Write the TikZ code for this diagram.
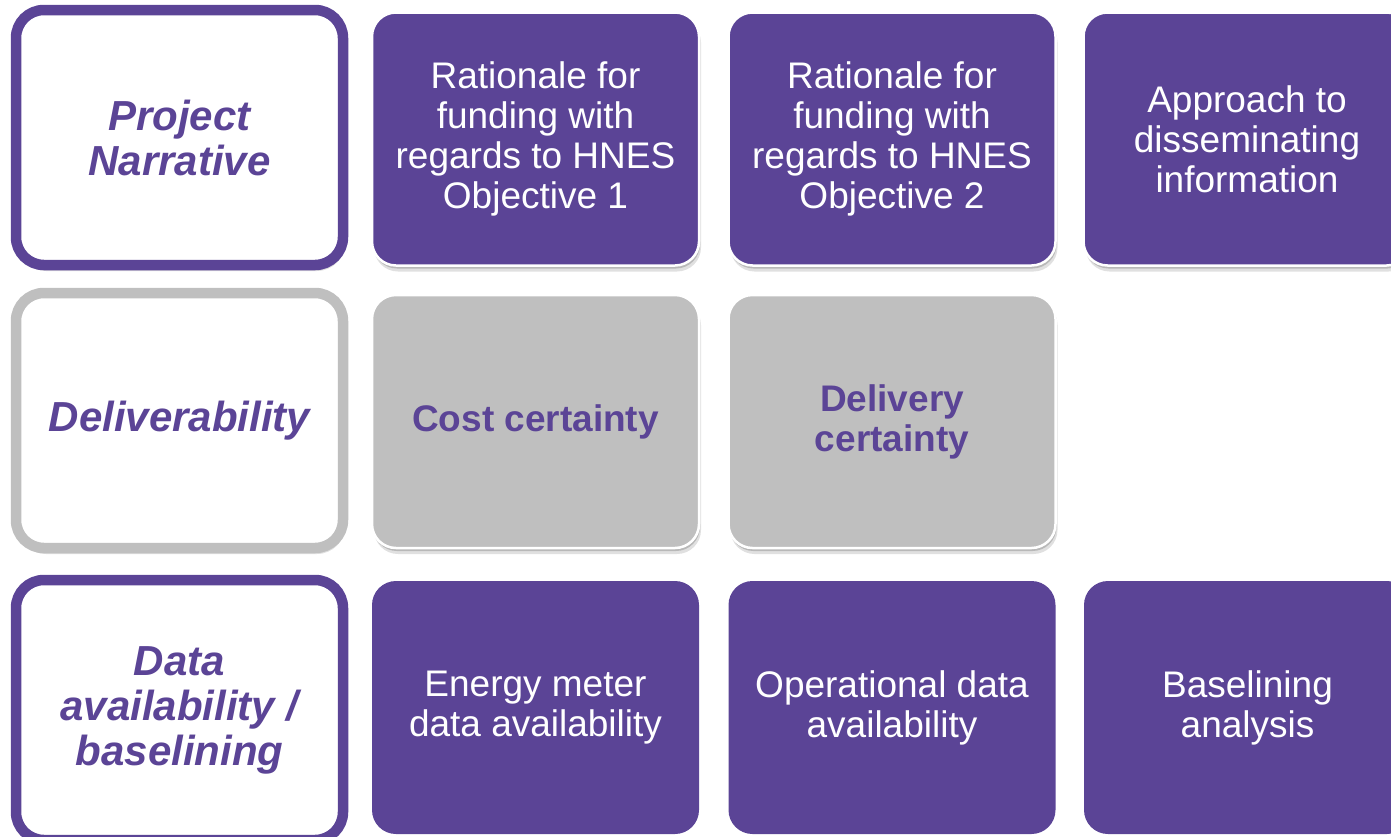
\documentclass[tikz,border=0pt]{standalone}
\usepackage{fontspec}
\setmainfont{Liberation Sans}
\usetikzlibrary{shadows}
\definecolor{hpurple}{RGB}{91,68,150}
\definecolor{hgray}{RGB}{191,191,191}
\tikzset{
  softshadow/.style={
    drop shadow={shadow xshift=1pt, shadow yshift=-3pt, opacity=0.18, fill=black},
    drop shadow={shadow xshift=2pt, shadow yshift=-6pt, opacity=0.12, fill=black}},
  cell/.style={rounded corners=24pt, minimum width=327pt, minimum height=253pt,
    inner sep=0pt, align=center, font=\fontsize{37}{40}\selectfont},
  pcell/.style={cell, fill=hpurple, text=white},
  pcellsh/.style={pcell, draw=white, line width=2.5pt, softshadow},
  gcell/.style={cell, fill=hgray, draw=white, line width=2.5pt, text=hpurple,
    font=\fontsize{37}{40}\selectfont\bfseries, softshadow},
  headbox/.style={rounded corners=28pt, minimum width=327pt, minimum height=255pt,
    inner sep=0pt, fill=white, line width=10.5pt, align=center, text=hpurple,
    font=\fontsize{42}{45}\selectfont\bfseries\itshape},
}
\begin{document}
\begin{tikzpicture}[x=1pt,y=-1pt]
\useasboundingbox (0,0) rectangle (1391,836);
\clip (0,0) rectangle (1391,836);
% row 1
\node[headbox, draw=hpurple, softshadow] (pn) at (179.5,137.5) {Project\\Narrative};
\node[pcellsh] (r1) at (535.5,139) {Rationale for\\funding with\\regards to HNES\\Objective 1};
\node[pcellsh] (r2) at (892,139) {Rationale for\\funding with\\regards to HNES\\Objective 2};
\node[pcellsh] (ap) at (1247,139) {Approach to\\disseminating\\information};
% row 2
\node[headbox, draw=hgray, softshadow] (dl) at (179.5,420.5) {Deliverability};
\node[gcell] (cc) at (535.5,421.5) {Cost certainty};
\node[gcell] (dc) at (892,421.5) {Delivery\\certainty};
% row 3
\node[headbox, draw=hpurple, minimum height=260pt] (da) at (179.5,710) {Data\\availability /\\baselining};
\node[pcell] (em) at (535.5,707.5) {Energy meter\\data availability};
\node[pcell] (od) at (892,707.5) {Operational data\\availability};
\node[pcell] (ba) at (1247.5,707.5) {Baselining\\analysis};
\end{tikzpicture}
\end{document}
